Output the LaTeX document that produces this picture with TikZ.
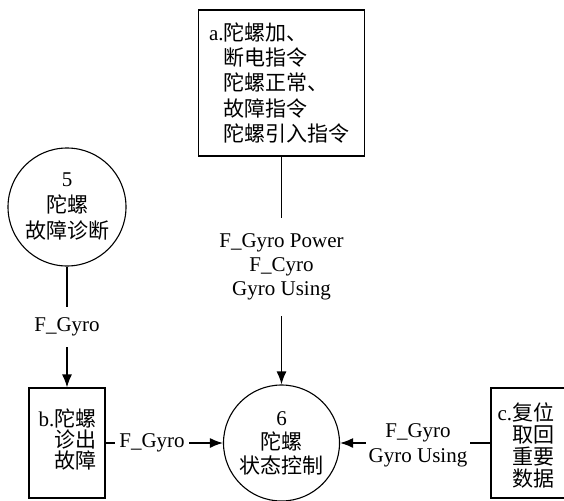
\documentclass[tikz,border=0pt]{standalone}
\usepackage{fontspec}
\setmainfont{Liberation Serif}
\newfontfamily\cjk{Noto Sans CJK SC}[Scale=1.0]
\usetikzlibrary{arrows.meta}
\begin{document}
\begin{tikzpicture}[x=1pt,y=-1pt,
  box/.style={draw, line width=1.1pt, inner sep=0pt},
  proc/.style={draw, circle, line width=1.1pt, inner sep=0pt, align=center},
  txt/.style={inner sep=0pt, align=left},
  lbl/.style={fill=white, align=center, inner xsep=4pt},
  flow/.style={line width=1.4pt, -{Latex[length=13pt,width=10pt]}},
  font=\fontsize{21}{26}\selectfont]
\useasboundingbox (0,0) rectangle (564,500);
% store a
\node[box, minimum width=166pt, minimum height=146pt] (a) at (281.5,83) {};
\node[txt, anchor=west, font=\fontsize{21}{25.3}\selectfont] (at) at ([xshift=11pt]a.west)
  {a.{\cjk 陀螺加、}\\\phantom{a.}{\cjk 断电指令}\\\phantom{a.}{\cjk 陀螺正常、}\\\phantom{a.}{\cjk 故障指令}\\\phantom{a.}{\cjk 陀螺引入指令}};
% process 5
\node[proc, minimum size=118pt] (c5) at (67,207) {5\\{\cjk 陀螺}\\{\cjk 故障诊断}};
% process 6
\node[proc, minimum size=116pt, font=\fontsize{21}{24}\selectfont] (c6) at (281.5,443) {6\\{\cjk 陀螺}\\{\cjk 状态控制}};
% store b
\node[box, minimum width=76pt, minimum height=110pt] (b) at (67,443) {};
\node[txt, anchor=west, font=\fontsize{21}{21}\selectfont] (bt) at ([xshift=10pt,yshift=3pt]b.west)
  {b.{\cjk 陀螺}\\\phantom{b.}{\cjk 诊出}\\\phantom{b.}{\cjk 故障}};
% store c
\node[box, minimum width=74pt, minimum height=110pt] (c) at (528,443) {};
\node[txt, anchor=west, font=\fontsize{21}{22}\selectfont] (ct) at ([xshift=7pt,yshift=-2pt]c.west)
  {c.{\cjk 复位}\\\phantom{c.}{\cjk 取回}\\\phantom{c.}{\cjk 重要}\\\phantom{c.}{\cjk 数据}};
% connectors
\draw[flow] (a.south) -- (c6.north);
\draw[flow] (c5.south) -- (b.north);
\draw[flow] (b.east) -- (c6.west);
\draw[flow] (c.west) -- (c6.east);
% labels
\node[lbl, inner ysep=16pt, font=\fontsize{21}{24}\selectfont] (l1) at (281.5,267) {F\_Gyro Power\\F\_Cyro\\Gyro Using};
\node[lbl, inner ysep=11pt] (l2) at (67,327) {F\_Gyro};
\node[lbl] (l3) at (152,443) {F\_Gyro};
\node[lbl, inner xsep=3pt, font=\fontsize{21}{25}\selectfont] (l4) at (418,445) {F\_Gyro\\Gyro Using};
\end{tikzpicture}
\end{document}
